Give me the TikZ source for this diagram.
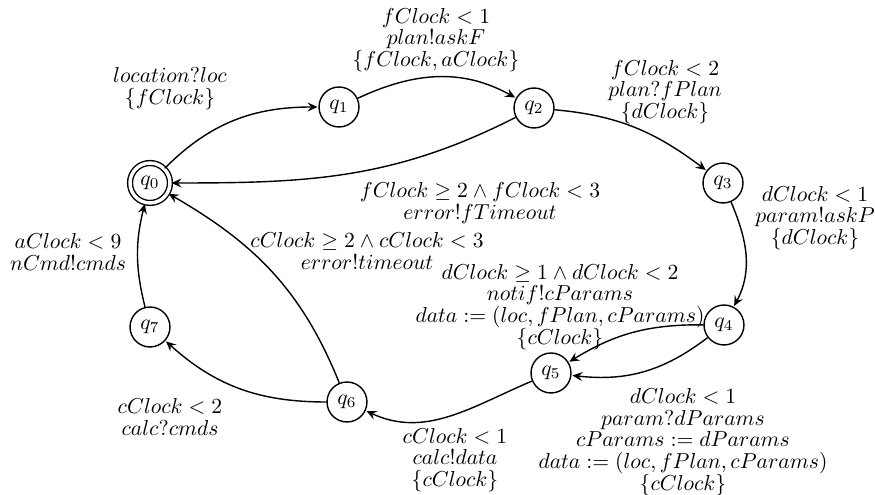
\documentclass[tikz,border=0pt]{standalone}
\usetikzlibrary{arrows.meta}
\newcommand{\stk}[2][10pt]{\vbox{\baselineskip=#1\lineskip=0pt\lineskiplimit=-\maxdimen\halign{\hfil$##$\hfil\cr#2\crcr}}}
\begin{document}
\begin{tikzpicture}[x=0.4629pt,y=0.4629pt,line width=0.65pt,
  st/.style={circle,draw,minimum size=18.5pt,inner sep=0pt},
  acc/.style={st,double,double distance=1.6pt},
  lab/.style={inner sep=0pt},
  tr/.style={-{Stealth[length=4.6pt,width=4.2pt,inset=1.7pt]},shorten >=0.4pt}]
\useasboundingbox (0,0) rectangle (875,495);
\node[acc] (q0) at (150,312) {$q_0$};
\node[st] (q1) at (339,388) {$q_1$};
\node[st] (q2) at (534,387) {$q_2$};
\node[st] (q3) at (723,312) {$q_3$};
\node[st] (q4) at (724,170) {$q_4$};
\node[st] (q5) at (551,122) {$q_5$};
\node[st] (q6) at (347,93) {$q_6$};
\node[st] (q7) at (150,168) {$q_7$};

\draw[tr] (q0) to[out=45,in=180] (q1);
\draw[tr] (q1) to[out=25,in=151] (q2);
\draw[tr] (q2) to[out=207,in=0] (q0);
\draw[tr] (q2) to[out=-5,in=143] (q3);
\draw[tr] (q3) to[out=-67,in=62] (q4);
\draw[tr] (q4) to[bend right=16] (q5);
\draw[tr] (q4) to[bend left=22] (q5);
\draw[tr] (q5) to[out=203,in=-25] (q6);
\draw[tr] (q6) to[out=112,in=-30] (q0);
\draw[tr] (q6) to[out=180,in=-42] (q7);
\draw[tr] (q7) to[out=104,in=-104] (q0);

\node[lab] (l1) at (170,406) {\stk{location?loc\cr \{fClock\}}};
\node[lab] (l2) at (436,455) {\stk{fClock<1\cr plan!askF\cr \{fClock,aClock\}}};
\node[lab] (l3) at (665,403) {\stk{fClock<2\cr plan?fPlan\cr \{dClock\}}};
\node[lab] (l4) at (480,292) {\stk{fClock\geq 2\wedge fClock<3\cr error!fTimeout}};
\node[lab] (l5) at (367,244) {\stk{cClock\geq 2\wedge cClock<3\cr error!timeout}};
\node[lab] (l6) at (560,188) {\stk{dClock\geq 1\wedge dClock<2\cr notif!cParams\cr data:=(loc,fPlan,cParams)\cr \{cClock\}}};
\node[lab] (l7) at (815,277) {\stk{dClock<1\cr param!askP\cr \{dClock\}}};
\node[lab] (l8) at (68,243) {\stk{aClock<9\cr nCmd!cmds}};
\node[lab] (l9) at (170,78) {\stk{cClock<2\cr calc?cmds}};
\node[lab] (l10) at (455,35) {\stk{cClock<1\cr calc!data\cr \{cClock\}}};
\node[lab] (l11) at (683,53) {\stk{dClock<1\cr param?dParams\cr cParams:=dParams\cr data:=(loc,fPlan,cParams)\cr \{cClock\}}};
\end{tikzpicture}
\end{document}
